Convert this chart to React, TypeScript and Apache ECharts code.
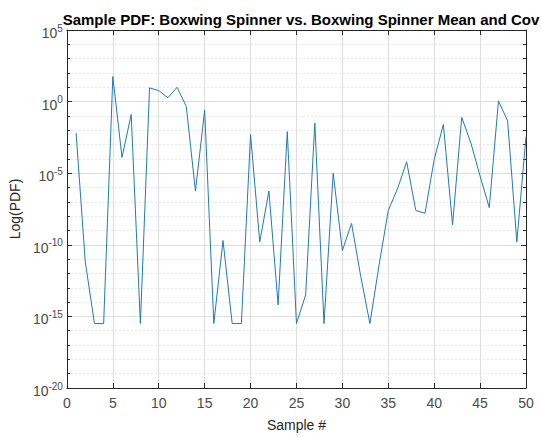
import React, { useEffect, useRef } from "react";
import * as echarts from "echarts";

const sampleNumbers: number[] = Array.from({ length: 50 }, (_, i) => i + 1);
// log10 of the PDF value for each sample
const logPdf: number[] = [
  -2.2, -11.2, -15.5, -15.5, 1.75, -3.9, -0.9, -15.5, 0.96, 0.77,
  0.27, 1.0, -0.34, -6.25, -0.59, -15.5, -9.7, -15.5, -15.5, -2.3,
  -9.8, -6.25, -14.2, -2.1, -15.5, -13.5, -1.5, -15.5, -5.0, -10.4,
  -8.5, -12.2, -15.5, -11.4, -7.6, -6.1, -4.2, -7.6, -7.8, -4.05,
  -1.6, -8.6, -1.1, -2.9, -5.2, -7.4, 0.05, -1.35, -9.8, -2.45,
];
const yTicks = { min: -20, max: 5, interval: 5 };
const xTicks = { min: 0, max: 50, interval: 5 };

const titleText = "Sample PDF: Boxwing Spinner vs. Boxwing Spinner Mean and Cov";
const axisColor = "#262626";
const labelColor = "#4a4a4a";
const font = "Liberation Sans, Arial, Helvetica, sans-serif";

export default function App() {
  const ref = useRef<HTMLDivElement>(null);
  useEffect(() => {
    if (!ref.current) return;
    const chart = echarts.init(ref.current, undefined, { renderer: "svg" });
    const tickCommon = {
      axisLine: { show: true, onZero: false, lineStyle: { color: axisColor, width: 1 } },
      axisTick: { show: true, inside: true, length: 5, lineStyle: { color: axisColor } },
    };
    chart.setOption({
      animation: false,
      backgroundColor: "#ffffff",
      textStyle: { fontFamily: font },
      title: {
        text: titleText,
        left: 296,
        textAlign: "center",
        top: 7,
        textStyle: { fontSize: 15, fontWeight: "bold", color: "#000", fontFamily: font },
      },
      grid: { left: 66.5, right: 15, top: 30, bottom: 45, containLabel: false },
      xAxis: [
        {
          type: "value",
          position: "bottom",
          ...xTicks,
          ...tickCommon,
          axisLabel: { color: labelColor, fontSize: 14, margin: 8, fontFamily: font },
          splitLine: { show: true, lineStyle: { color: "#dedede", width: 1 } },
          name: "Sample #",
          nameLocation: "middle",
          nameGap: 30,
          nameTextStyle: { fontSize: 14, color: axisColor, fontFamily: font },
        },
        {
          type: "value",
          position: "top",
          ...xTicks,
          ...tickCommon,
          axisLabel: { show: false },
          splitLine: { show: false },
        },
      ],
      yAxis: [
        {
          type: "value",
          position: "left",
          ...yTicks,
          ...tickCommon,
          minorTick: { show: true, splitNumber: 5, length: 3, lineStyle: { color: axisColor } },
          axisLabel: {
            margin: 4,
            formatter: (v: number) => `{b|10}{s|${v}}`,
            rich: {
              b: { fontSize: 14, color: labelColor, fontFamily: font, lineHeight: 16, padding: [6, 0, 0, 0] },
              s: { fontSize: 10, color: labelColor, fontFamily: font, lineHeight: 11, padding: [0, 0, 4, 0] },
            },
          },
          splitLine: { show: true, lineStyle: { color: "#dedede", width: 1 } },
          minorSplitLine: { show: true, lineStyle: { color: "#e6e6e6", width: 1, type: [2, 2] } },
          name: "Log(PDF)",
          nameLocation: "middle",
          nameGap: 39,
          nameTextStyle: { fontSize: 14, color: axisColor, fontFamily: font },
        },
        {
          type: "value",
          position: "right",
          ...yTicks,
          ...tickCommon,
          minorTick: { show: true, splitNumber: 5, length: 3, lineStyle: { color: axisColor } },
          axisLabel: { show: false },
          splitLine: { show: false },
        },
      ],
      series: [
        {
          type: "line",
          xAxisIndex: 0,
          yAxisIndex: 0,
          data: sampleNumbers.map((x, i) => [x, logPdf[i]]),
          showSymbol: false,
          lineStyle: { color: "#1f7ab8", width: 1 },
          itemStyle: { color: "#1f7ab8" },
        },
      ],
    });
    return () => chart.dispose();
  }, []);
  return (
    <div
      ref={ref}
      style={{ position: "fixed", left: 0, top: 0, width: 541, height: 437, background: "#fff" }}
    />
  );
}
